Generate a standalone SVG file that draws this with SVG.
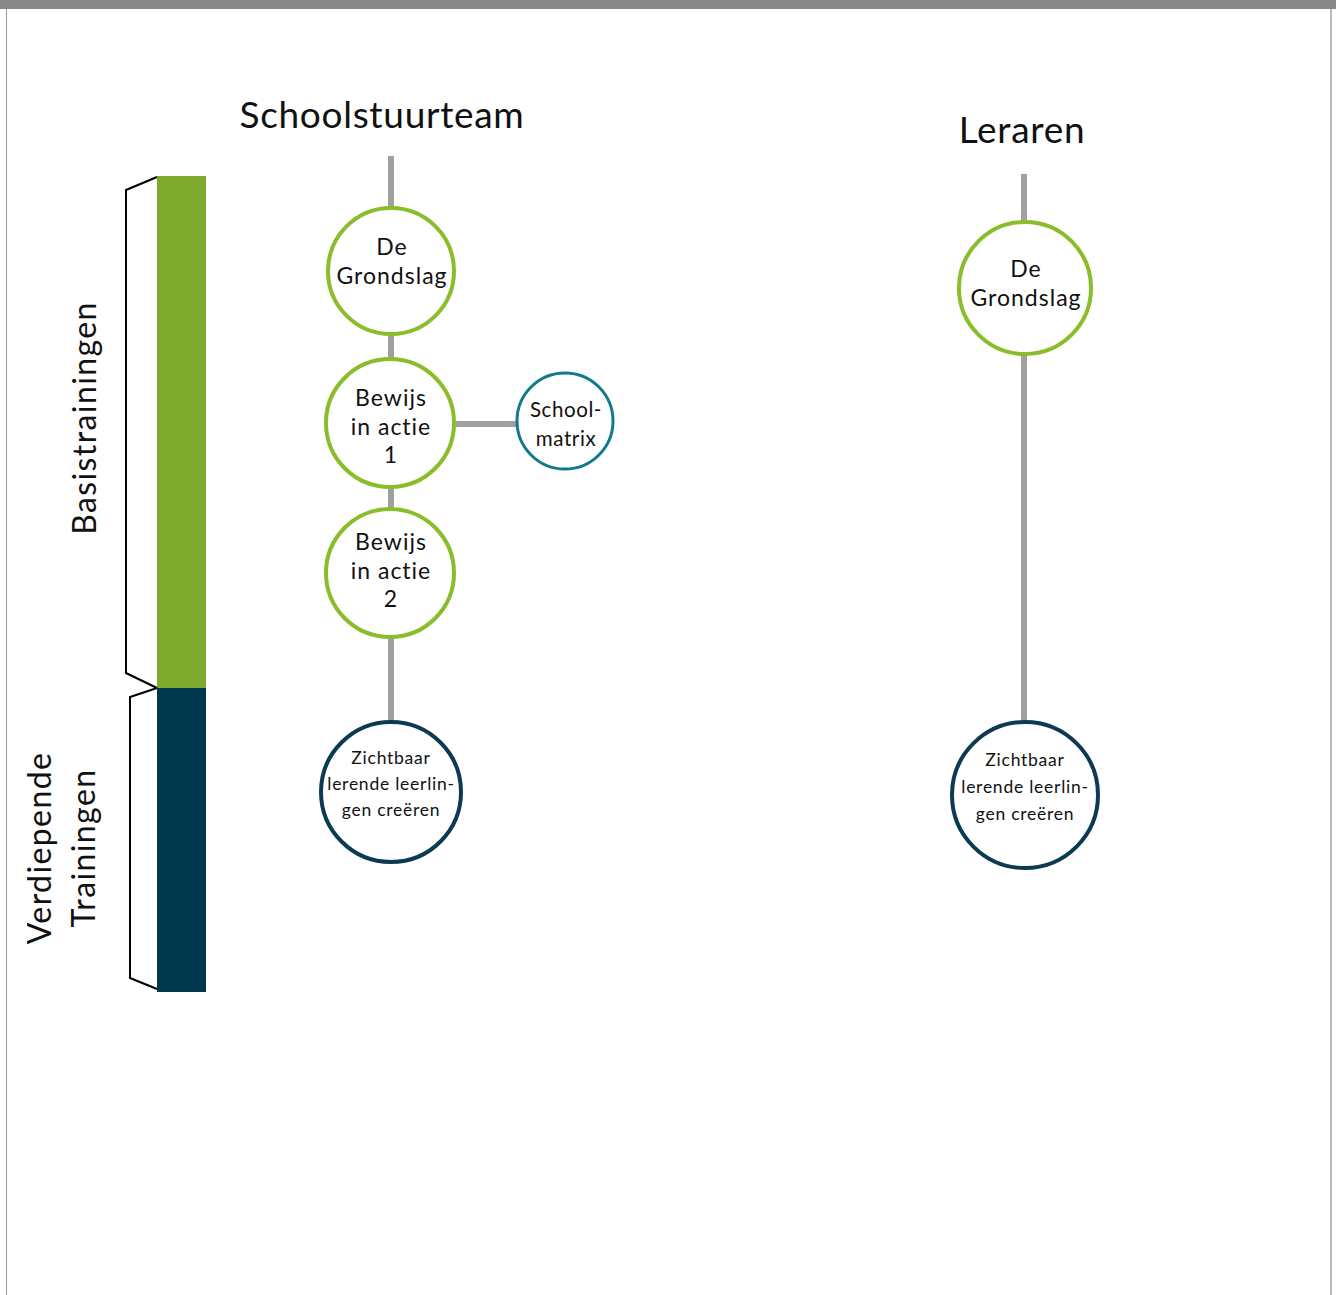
<svg xmlns="http://www.w3.org/2000/svg" width="1336" height="1295" viewBox="0 0 1336 1295">
<style>
.t{font-family:Lato,"Noto Sans","Liberation Sans",sans-serif;fill:#111;text-anchor:middle}
.n{font-size:23px;letter-spacing:1px}
.s{font-size:17.5px;letter-spacing:0.75px}
.r{font-size:32px;letter-spacing:1.4px}
.h{font-size:37px;letter-spacing:0.7px}
.g{fill:#fff;stroke:#8BBD2B;stroke-width:4}
.d{fill:#fff;stroke:#0B3A52;stroke-width:4}
.m{fill:#fff;stroke:#127A8C;stroke-width:3}
.c{stroke:#A0A0A0;stroke-width:6;fill:none}
.b{fill:none;stroke:#000;stroke-width:2}
</style>
<rect x="0" y="0" width="1336" height="1295" fill="#fff"/>
<rect x="0" y="0" width="1336" height="9" fill="#888"/>
<line x1="6.5" y1="9" x2="6.5" y2="1295" stroke="#999" stroke-width="1"/>
<line x1="1331" y1="9" x2="1331" y2="1295" stroke="#bbb" stroke-width="2"/>
<text class="t h" x="382" y="128">Schoolstuurteam</text>
<text class="t h" x="1022" y="143">Leraren</text>
<g id="bars">
<rect x="157" y="176" width="49" height="512" fill="#7FAA2D"/>
<rect x="157" y="688" width="49" height="304" fill="#00374D"/>
<path class="b" d="M157,177 L126,190 L126,673 L157,688"/>
<path class="b" d="M157,688 L130,697 L130,978 L157,989"/>
<text class="t r" transform="translate(96,418) rotate(-90)">Basistrainingen</text>
<text class="t r" transform="translate(51,848) rotate(-90)">Verdiepende</text>
<text class="t r" transform="translate(95,848) rotate(-90)">Trainingen</text>
</g>
<g id="connectors">
<line class="c" x1="391" y1="156" x2="391" y2="207"/>
<line class="c" x1="391" y1="334" x2="391" y2="360"/>
<line class="c" x1="391" y1="486" x2="391" y2="510"/>
<line class="c" x1="391" y1="636" x2="391" y2="724"/>
<line class="c" x1="455" y1="424" x2="518" y2="424"/>
<line class="c" x1="1024" y1="174" x2="1024" y2="223"/>
<line class="c" x1="1024" y1="353" x2="1024" y2="724"/>
</g>
<g id="n1"><circle class="g" cx="391" cy="271" r="63"/>
<text class="t n"><tspan x="392" y="255">De</tspan><tspan x="392" y="284">Grondslag</tspan></text></g>
<g id="n2"><circle class="g" cx="390" cy="423" r="64"/>
<text class="t n"><tspan x="391" y="406">Bewijs</tspan><tspan x="391" y="435">in actie</tspan><tspan x="391" y="463">1</tspan></text></g>
<g id="n3"><circle class="g" cx="390" cy="573" r="64"/>
<text class="t n"><tspan x="391" y="550">Bewijs</tspan><tspan x="391" y="579">in actie</tspan><tspan x="391" y="607">2</tspan></text></g>
<g id="n4"><circle class="m" cx="565" cy="421" r="48"/>
<text class="t" font-size="20.5" letter-spacing="0.6"><tspan x="566" y="417">School-</tspan><tspan x="566" y="446">matrix</tspan></text></g>
<g id="n5"><circle class="d" cx="391" cy="792" r="70"/>
<text class="t s"><tspan x="391" y="764">Zichtbaar</tspan><tspan x="391" y="790">lerende leerlin-</tspan><tspan x="391" y="816">gen creëren</tspan></text></g>
<g id="n6"><circle class="g" cx="1025" cy="288" r="66"/>
<text class="t n"><tspan x="1026" y="277">De</tspan><tspan x="1026" y="306">Grondslag</tspan></text></g>
<g id="n7"><circle class="d" cx="1025" cy="795" r="73"/>
<text class="t s"><tspan x="1025" y="766">Zichtbaar</tspan><tspan x="1025" y="793">lerende leerlin-</tspan><tspan x="1025" y="820">gen creëren</tspan></text></g>
</svg>
